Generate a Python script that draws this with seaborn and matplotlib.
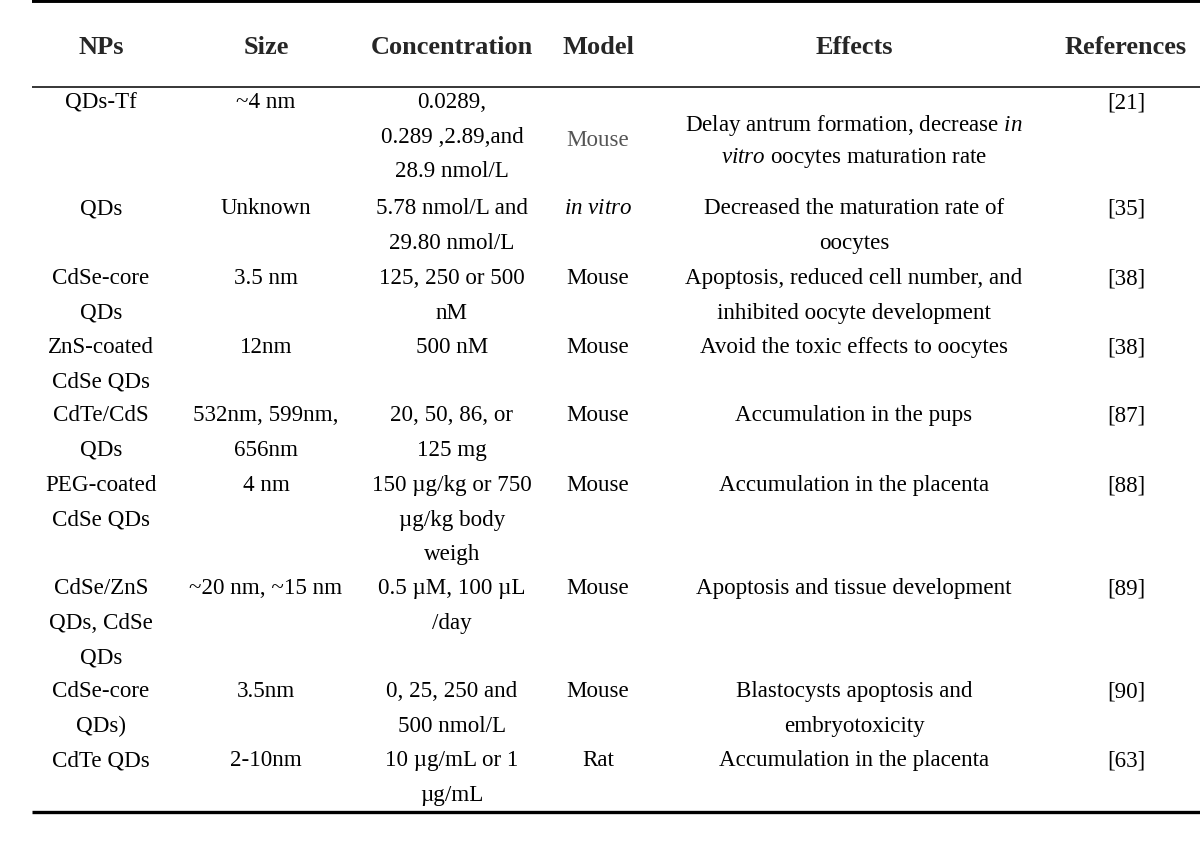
import matplotlib.pyplot as plt
import seaborn as sns
import pandas as pd

# Dados da tabela
headers = ['NPs', 'Size', 'Concentration', 'Model', 'Effects', 'References']
nps = ['QDs-Tf', 'QDs', 'CdSe-core\nQDs', 'ZnS-coated\nCdSe QDs', 'CdTe/CdS\nQDs',
       'PEG-coated\nCdSe QDs', 'CdSe/ZnS\nQDs, CdSe\nQDs', 'CdSe-core\nQDs)', 'CdTe QDs']
sizes = ['~4 nm', 'Unknown', '3.5 nm', '12nm', '532nm, 599nm,\n656nm', '4 nm',
         '~20 nm, ~15 nm', '3.5nm', '2-10nm']
concentrations = ['0.0289,\n0.289 ,2.89,and\n28.9 nmol/L', '5.78 nmol/L and\n29.80 nmol/L',
                  '125, 250 or 500\nnM', '500 nM', '20, 50, 86, or\n125 mg',
                  '150 µg/kg or 750\nµg/kg body\nweigh', '0.5 µM, 100 µL\n/day',
                  '0, 25, 250 and\n500 nmol/L', '10 µg/mL or 1\nµg/mL']
models = ['Mouse', r'$\mathit{in\ vitro}$', 'Mouse', 'Mouse', 'Mouse', 'Mouse', 'Mouse', 'Mouse', 'Rat']
effects = [r'Delay antrum formation, decrease $\mathit{in}$' + '\n' + r'$\mathit{vitro}$ oocytes maturation rate',
           'Decreased the maturation rate of\noocytes',
           'Apoptosis, reduced cell number, and\ninhibited oocyte development',
           'Avoid the toxic effects to oocytes',
           'Accumulation in the pups',
           'Accumulation in the placenta',
           'Apoptosis and tissue development',
           'Blastocysts apoptosis and\nembryotoxicity',
           'Accumulation in the placenta']
references = ['[21]', '[35]', '[38]', '[38]', '[87]', '[88]', '[89]', '[90]', '[63]']

df = pd.DataFrame({'NPs': nps, 'Size': sizes, 'Concentration': concentrations,
                   'Model': models, 'Effects': effects, 'References': references})

# Layout (pixels)
col_x = {'NPs': 101, 'Size': 266, 'Concentration': 452, 'Model': 598,
         'Effects': 854, 'References': 1126}
row_top = [103, 209, 279, 348, 416, 486, 589, 692, 761]
line_h = 34.4
middle = {(0, 'Model'): 140, (0, 'Effects'): 125}

sns.set_theme(style='white')
plt.rcParams['font.family'] = ['Liberation Serif', 'DejaVu Serif']
plt.rcParams['mathtext.fontset'] = 'custom'
plt.rcParams['mathtext.rm'] = 'Liberation Serif'
plt.rcParams['mathtext.it'] = 'Liberation Serif:italic'

fig = plt.figure(figsize=(12, 8.45), dpi=100)
ax = fig.add_axes([0, 0, 1, 1])
ax.set_xlim(0, 1200)
ax.set_ylim(845, 0)
ax.axis('off')

# Linhas da tabela
ax.plot([32, 1200], [1.8, 1.8], color='black', lw=2.8, solid_capstyle='butt')
ax.plot([32, 1200], [87.5, 87.5], color='black', lw=1.1, solid_capstyle='butt')
ax.plot([32, 1200], [813, 813], color='black', lw=2.4, solid_capstyle='butt')

fs = 16.6
for h in headers:
    ax.text(col_x[h], 47, h, ha='center', va='center', fontsize=19, fontweight='bold')

for i, row in df.iterrows():
    for col in headers:
        start = middle.get((i, col), row_top[i])
        color = '#555555' if (i, col) == (0, 'Model') else 'black'
        for k, line in enumerate(row[col].split('\n')):
            step = 33 if (i, col) in middle else line_h
            ax.text(col_x[col], start + k * step, line, ha='center', va='center',
                    fontsize=fs, color=color)

fig.savefig('out.png', dpi=100, facecolor='white')
